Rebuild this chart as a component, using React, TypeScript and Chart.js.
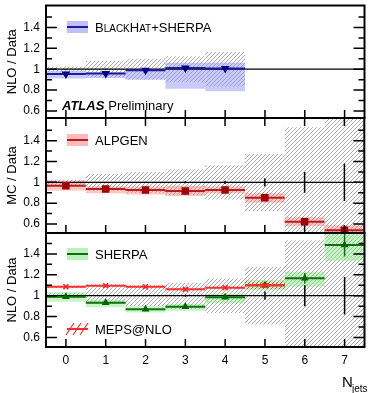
import React, { useEffect, useRef } from 'react';
import { Chart, registerables } from 'chart.js';

Chart.register(...registerables);

const W = 370;
const H = 393;
const FONT = '"Liberation Sans", Arial, Helvetica, sans-serif';

// ---------------- data ----------------
const nJets = [0, 1, 2, 3, 4, 5, 6, 7];
const xTickValues = [0, 1, 2, 3, 4, 5, 6, 7];
const yTickValues = [0.6, 0.8, 1, 1.2, 1.4];

// data / data and its uncertainties
const dataRatio = [1, 1, 1, 1, 1, 1, 1, 1];
const dataStatErr = [0.002, 0.004, 0.006, 0.01, 0.015, 0.04, 0.1, 0.18];
const dataSystLow = [0.975, 0.92, 0.9, 0.875, 0.835, 0.725, 0.47, 0.3];
const dataSystHigh = [1.025, 1.08, 1.1, 1.125, 1.165, 1.275, 1.53, 1.7];

// BlackHat+Sherpa NLO / data
const bhJets = [0, 1, 2, 3, 4];
const bhRatio = [0.955, 0.96, 0.99, 1.012, 1.007];
const bhLow = [0.91, 0.915, 0.898, 0.813, 0.79];
const bhHigh = [0.985, 0.972, 0.998, 1.062, 1.065];

// ALPGEN MC / data
const alpRatio = [0.967, 0.936, 0.926, 0.916, 0.926, 0.852, 0.621, 0.54];
const alpLow = [0.922, 0.895, 0.882, 0.869, 0.896, 0.803, 0.58, 0.5];
const alpHigh = [1.018, 0.962, 0.958, 0.965, 0.959, 0.896, 0.665, 0.587];

// SHERPA / data
const sherpaRatio = [0.99, 0.933, 0.87, 0.895, 0.985, 1.1, 1.166, 1.485];
const sherpaLow = [0.943, 0.89, 0.84, 0.857, 0.927, 1.055, 1.086, 1.335];
const sherpaHigh = [1.035, 0.96, 0.9, 0.92, 1.02, 1.15, 1.23, 1.62];
const sherpaStatErr = [0, 0, 0, 0, 0, 0, 0.05, 0.11];

// MEPS@NLO / data
const mepsJets = [0, 1, 2, 3, 4, 5];
const mepsRatio = [1.086, 1.096, 1.086, 1.061, 1.077, 1.1];
const mepsLow = [1.076, 1.086, 1.076, 1.051, 1.067, 1.065];
const mepsHigh = [1.096, 1.106, 1.096, 1.071, 1.087, 1.135];

// ---------------- layout ----------------
const PLOT_RIGHT = 368;
const PLOT_LEFT = 46;
const PANELS = [
  { top: 5, bottom: 118, min: 0.533, max: 1.61, title: 'NLO / Data', topTicks: false },
  { top: 118, bottom: 233, min: 0.513, max: 1.618, title: 'MC / Data', topTicks: true },
  { top: 233, bottom: 347, min: 0.509, max: 1.6, title: 'NLO / Data', topTicks: false },
];

function makeHatch(ctx: CanvasRenderingContext2D, color: string, size: number, lw: number) {
  const c = document.createElement('canvas');
  c.width = size;
  c.height = size;
  const g = c.getContext('2d')!;
  g.strokeStyle = color;
  g.lineWidth = lw;
  g.beginPath();
  g.moveTo(-1, size + 1);
  g.lineTo(size + 1, -1);
  g.moveTo(-1, 1);
  g.lineTo(1, -1);
  g.moveTo(size - 1, size + 1);
  g.lineTo(size + 1, size - 1);
  g.stroke();
  return ctx.createPattern(c, 'repeat')!;
}

function band(xs: number[], lo: number[], hi: number[], bg: any, order: number) {
  return {
    type: 'bar',
    data: xs.map((x, i) => ({ x, y: [lo[i], hi[i]] })),
    backgroundColor: bg,
    borderWidth: 0,
    barPercentage: 1,
    categoryPercentage: 1,
    grouped: false,
    inflateAmount: 0,
    order,
  };
}

function steps(xs: number[], vals: number[], color: string, width: number, order: number) {
  const data: any[] = [];
  xs.forEach((x, i) => {
    data.push({ x: x - 0.5, y: vals[i] }, { x: x + 0.5, y: vals[i] }, { x: x + 0.5, y: null });
  });
  return { type: 'line', data, borderColor: color, borderWidth: width, pointRadius: 0, spanGaps: false, fill: false, order };
}

function errs(xs: number[], centers: number[], err: number[], color: string, width: number, order: number) {
  const data: any[] = [];
  xs.forEach((x, i) => {
    if (err[i] > 0) data.push({ x, y: centers[i] - err[i] }, { x, y: centers[i] + err[i] }, { x, y: null });
  });
  return { type: 'line', data, borderColor: color, borderWidth: width, pointRadius: 0, spanGaps: false, fill: false, order };
}

function markers(xs: number[], vals: number[], style: string, rot: number, color: string, r: number, order: number) {
  return {
    type: 'line',
    data: xs.map((x, i) => ({ x, y: vals[i] })),
    showLine: false,
    pointStyle: style,
    pointRotation: rot,
    pointRadius: r,
    pointBackgroundColor: color,
    pointBorderColor: color,
    pointBorderWidth: 1.5,
    order,
  };
}

function unity(order: number) {
  return {
    type: 'line',
    data: [{ x: -0.5, y: 1 }, { x: 7.5, y: 1 }],
    borderColor: '#000',
    borderWidth: 1.2,
    pointRadius: 0,
    fill: false,
    order,
  };
}

function legendBox(ctx: CanvasRenderingContext2D, cy: number, fill: string, line: string) {
  ctx.fillStyle = fill;
  ctx.fillRect(67, cy - 6, 21, 12);
  ctx.strokeStyle = line;
  ctx.lineWidth = 2;
  ctx.beginPath();
  ctx.moveTo(67, cy);
  ctx.lineTo(88, cy);
  ctx.stroke();
}

function drawParts(ctx: CanvasRenderingContext2D, x: number, y: number, parts: [string, number, string?][]) {
  let cx = x;
  for (const [t, s, style] of parts) {
    ctx.font = `${style ? style + ' ' : ''}${s}px ${FONT}`;
    ctx.fillText(t, cx, y);
    cx += ctx.measureText(t).width;
  }
  return cx;
}

const extras = [
  (ctx: CanvasRenderingContext2D) => {
    legendBox(ctx, 27, 'rgba(150,150,245,0.6)', '#1c1ca0');
    ctx.fillStyle = '#000';
    drawParts(ctx, 95, 32, [['B', 13], ['LACK', 10], ['H', 13], ['AT', 10], ['+SHERPA', 13]]);
    const end = drawParts(ctx, 62, 110, [['ATLAS', 13, 'italic bold']]);
    drawParts(ctx, end + 4, 110, [['Preliminary', 13]]);
  },
  (ctx: CanvasRenderingContext2D) => {
    legendBox(ctx, 140, 'rgba(255,120,120,0.5)', '#b51f1f');
    ctx.fillStyle = '#000';
    drawParts(ctx, 95, 145, [['ALPGEN', 13]]);
  },
  (ctx: CanvasRenderingContext2D) => {
    legendBox(ctx, 254, 'rgba(120,230,120,0.5)', '#107010');
    ctx.fillStyle = '#000';
    drawParts(ctx, 95, 259, [['SHERPA', 13]]);
    // MEPS@NLO icon
    ctx.strokeStyle = '#ff2a2a';
    ctx.lineWidth = 2;
    ctx.beginPath();
    ctx.moveTo(67, 329);
    ctx.lineTo(88, 329);
    ctx.stroke();
    ctx.lineWidth = 1.2;
    ctx.beginPath();
    for (const sx of [70, 77, 84]) {
      ctx.moveTo(sx - 4, 335);
      ctx.lineTo(sx + 4, 323);
    }
    ctx.stroke();
    ctx.fillStyle = '#000';
    drawParts(ctx, 95, 334, [['MEPS@NLO', 13]]);
    // axis title N_jets
    drawParts(ctx, 342, 387, [['N', 15]]);
    drawParts(ctx, 352, 392, [['jets', 10]]);
  },
];

function makeFrame(pi: number) {
  return {
    id: 'frame' + pi,
    afterDraw(chart: any) {
      const { ctx, chartArea: a } = chart;
      const x = chart.scales.x;
      const y = chart.scales.y;
      const P = PANELS[pi];
      ctx.save();
      ctx.strokeStyle = '#000';
      ctx.lineWidth = 1.5;
      ctx.beginPath();
      const minors: number[] = [];
      yTickValues.forEach((v) => {
        const m = Math.round((v + 0.1) * 100) / 100;
        if (m > y.min && m < y.max) minors.push(m);
      });
      for (const v of yTickValues) {
        const py = y.getPixelForValue(v);
        ctx.moveTo(a.left, py);
        ctx.lineTo(a.left + 11, py);
        ctx.moveTo(a.right, py);
        ctx.lineTo(a.right - 11, py);
      }
      for (const v of minors) {
        const py = y.getPixelForValue(v);
        ctx.moveTo(a.left, py);
        ctx.lineTo(a.left + 6, py);
        ctx.moveTo(a.right, py);
        ctx.lineTo(a.right - 6, py);
      }
      for (const t of x.ticks) {
        const px = x.getPixelForValue(t.value);
        ctx.moveTo(px, a.bottom);
        ctx.lineTo(px, a.bottom - 8);
        if (P.topTicks) {
          ctx.moveTo(px, a.top);
          ctx.lineTo(px, a.top + 8);
        }
      }
      ctx.stroke();
      ctx.lineWidth = 2;
      ctx.strokeRect(a.left, a.top, a.right - a.left, a.bottom - a.top);
      extras[pi](ctx);
      ctx.restore();
    },
  };
}

export default function App() {
  const refs = [useRef<HTMLCanvasElement>(null), useRef<HTMLCanvasElement>(null), useRef<HTMLCanvasElement>(null)];

  useEffect(() => {
    const charts: Chart[] = [];
    PANELS.forEach((P, pi) => {
      const canvas = refs[pi].current!;
      const ctx = canvas.getContext('2d')!;
      const hatch = makeHatch(ctx, '#a0a0a0', 4, 0.9);
      const redHatch = makeHatch(ctx, '#ff3030', 4, 1);
      let datasets: any[] = [];
      if (pi === 0) {
        datasets = [
          band(bhJets, dataSystLow, dataSystHigh, hatch, 10),
          band(bhJets, bhLow, bhHigh, 'rgba(150,150,245,0.5)', 8),
          unity(5),
          errs(bhJets, dataRatio, dataStatErr, '#000', 1.5, 6),
          steps(bhJets, bhRatio, '#1c1ca0', 2, 4),
          markers(bhJets, bhRatio, 'triangle', 180, '#00008c', 3.5, 0),
        ];
      } else if (pi === 1) {
        datasets = [
          band(nJets, dataSystLow, dataSystHigh, hatch, 10),
          band(nJets, alpLow, alpHigh, 'rgba(255,120,120,0.42)', 8),
          unity(5),
          errs(nJets, dataRatio, dataStatErr, '#000', 1.5, 6),
          steps(nJets, alpRatio, '#b51f1f', 2, 4),
          markers(nJets, alpRatio, 'rect', 0, '#a50000', 4.2, 0),
        ];
      } else {
        datasets = [
          band(nJets, dataSystLow, dataSystHigh, hatch, 10),
          band(nJets, sherpaLow, sherpaHigh, 'rgba(120,230,120,0.42)', 8),
          unity(5),
          errs(nJets, dataRatio, dataStatErr, '#000', 1.5, 6),
          steps(nJets, sherpaRatio, '#107010', 2, 4),
          errs(nJets, sherpaRatio, sherpaStatErr, '#107010', 1.5, 4),
          markers(nJets, sherpaRatio, 'triangle', 0, '#006400', 3, 2),
          band(mepsJets, mepsLow, mepsHigh, redHatch, 3),
          steps(mepsJets, mepsRatio, '#ff3030', 2, 1),
          markers(mepsJets, mepsRatio, 'crossRot', 0, '#ff2020', 3.5, 0),
        ];
      }
      const last = pi === 2;
      const chart = new Chart(canvas, {
        type: 'bar',
        data: { datasets },
        options: {
          responsive: false,
          animation: false,
          devicePixelRatio: 1,
          events: [],
          layout: { padding: { top: P.top, bottom: last ? 0 : H - P.bottom, left: 0, right: W - PLOT_RIGHT } },
          plugins: { legend: { display: false }, tooltip: { enabled: false }, title: { display: false } },
          scales: {
            x: {
              type: 'linear',
              min: -0.5,
              max: 7.5,
              offset: false,
              display: last,
              afterBuildTicks: (s: any) => {
                s.ticks = xTickValues.map((v) => ({ value: v }));
              },
              afterFit: (s: any) => {
                if (last) s.height = H - P.bottom;
                s.paddingLeft = 0;
                s.paddingRight = 0;
              },
              grid: { display: false, drawTicks: false },
              border: { display: false },
              ticks: {
                font: { size: 12, family: FONT },
                color: '#000',
                padding: 6,
                maxRotation: 0,
                autoSkip: false,
                callback: (v: any) => String(v),
              },
            },
            y: {
              type: 'linear',
              min: P.min,
              max: P.max,
              beginAtZero: false,
              afterBuildTicks: (s: any) => {
                s.ticks = yTickValues.map((v) => ({ value: v }));
              },
              afterFit: (s: any) => {
                s.width = PLOT_LEFT;
                s.paddingTop = 0;
                s.paddingBottom = 0;
              },
              grid: { display: false, drawTicks: false },
              border: { display: false },
              ticks: {
                font: { size: 12, family: FONT },
                color: '#000',
                padding: 6,
                callback: (v: any) => (Math.abs(v - 1) < 1e-9 ? '1' : Number(v).toFixed(1)),
              },
              title: {
                display: true,
                text: P.title,
                color: '#000',
                font: { size: 13, family: FONT },
                padding: { top: 5, bottom: 0 },
              },
            },
          },
        } as any,
        plugins: [makeFrame(pi) as any],
      } as any);
      charts.push(chart);
    });
    return () => charts.forEach((c) => c.destroy());
  }, []);

  return (
    <div style={{ position: 'fixed', left: 0, top: 0, width: W, height: H, background: '#fff' }}>
      {refs.map((r, i) => (
        <canvas
          key={i}
          ref={r}
          width={W}
          height={H}
          style={{ position: 'absolute', left: 0, top: 0, width: W, height: H, display: 'block' }}
        />
      ))}
    </div>
  );
}
